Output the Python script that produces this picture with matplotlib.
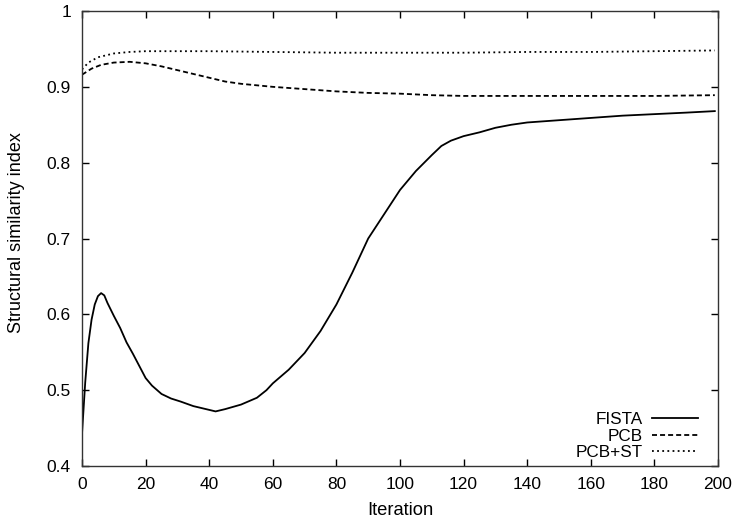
import matplotlib
matplotlib.use("Agg")
import matplotlib.pyplot as plt

plt.rcParams['font.family'] = ['Liberation Sans', 'DejaVu Sans']
plt.rcParams['lines.scale_dashes'] = False

fista_x = [0, 1, 2, 3, 4, 5, 6, 7, 8, 10, 12, 14, 16, 18, 20, 22, 25, 28, 31, 35,
           40, 42, 45, 50, 55, 58, 60, 65, 70, 75, 80, 85, 90, 95, 100, 105, 110,
           113, 116, 120, 125, 130, 135, 140, 150, 160, 170, 180, 190, 199]
fista_y = [0.443, 0.510, 0.562, 0.593, 0.613, 0.624, 0.628, 0.625, 0.615, 0.598,
           0.582, 0.563, 0.548, 0.532, 0.516, 0.506, 0.495, 0.489, 0.485, 0.479,
           0.474, 0.472, 0.475, 0.481, 0.490, 0.500, 0.509, 0.527, 0.549, 0.578,
           0.613, 0.655, 0.700, 0.732, 0.764, 0.789, 0.810, 0.822, 0.829, 0.835,
           0.840, 0.846, 0.850, 0.853, 0.856, 0.859, 0.862, 0.864, 0.866, 0.868]

pcb_x = [0, 3, 6, 10, 15, 20, 25, 30, 35, 40, 45, 50, 60, 70, 80, 90, 100, 110,
         120, 140, 160, 180, 199]
pcb_y = [0.916, 0.924, 0.929, 0.932, 0.933, 0.931, 0.927, 0.922, 0.917, 0.912,
         0.907, 0.904, 0.900, 0.897, 0.894, 0.892, 0.891, 0.889, 0.888, 0.888,
         0.888, 0.888, 0.889]

pcbst_x = [0, 2, 5, 10, 15, 20, 30, 40, 60, 80, 100, 120, 140, 160, 180, 199]
pcbst_y = [0.923, 0.932, 0.939, 0.944, 0.946, 0.947, 0.947, 0.947, 0.946, 0.945,
           0.945, 0.945, 0.946, 0.946, 0.947, 0.948]

x_ticks = [0, 20, 40, 60, 80, 100, 120, 140, 160, 180, 200]
y_ticks = [0.4, 0.5, 0.6, 0.7, 0.8, 0.9, 1.0]
y_tick_labels = ["0.4", "0.5", "0.6", "0.7", "0.8", "0.9", "1"]

fig = plt.figure(figsize=(7.37, 5.19), dpi=100)
ax = fig.add_axes([0.1113, 0.1021, 0.8629, 0.8767])

ax.plot(fista_x, fista_y, color='black', lw=1.3, label='FISTA')
ax.plot(pcb_x, pcb_y, color='black', lw=1.3, dashes=(3.6, 2.2), label='PCB')
ax.plot(pcbst_x, pcbst_y, color='black', lw=1.3, dashes=(1.3, 2.4), label='PCB+ST')

ax.set_xlim(0, 200)
ax.set_ylim(0.4, 1.0)
ax.set_xticks(x_ticks)
ax.set_yticks(y_ticks)
ax.set_yticklabels(y_tick_labels)
ax.tick_params(direction='in', length=5, width=1, top=True, right=True,
               labelsize=12.5, pad=8, colors='black')
for s in ax.spines.values():
    s.set_linewidth(1.0)
    s.set_color('#333333')

ax.set_xlabel('Iteration', fontsize=13.2, labelpad=7)
ax.set_ylabel('Structural similarity index', fontsize=13, labelpad=12)
ax.yaxis.set_label_coords(-0.089, 0.513)

leg = ax.legend(loc='lower right', bbox_to_anchor=(0.9686, 0.013), frameon=False,
                markerfirst=False, fontsize=12.3, handlelength=2.7,
                handletextpad=0.55, labelspacing=0.08, borderpad=0.0,
                borderaxespad=0.0)
for t in leg.get_texts():
    t.set_ha('right')

fig.savefig('out.png', dpi=100)
